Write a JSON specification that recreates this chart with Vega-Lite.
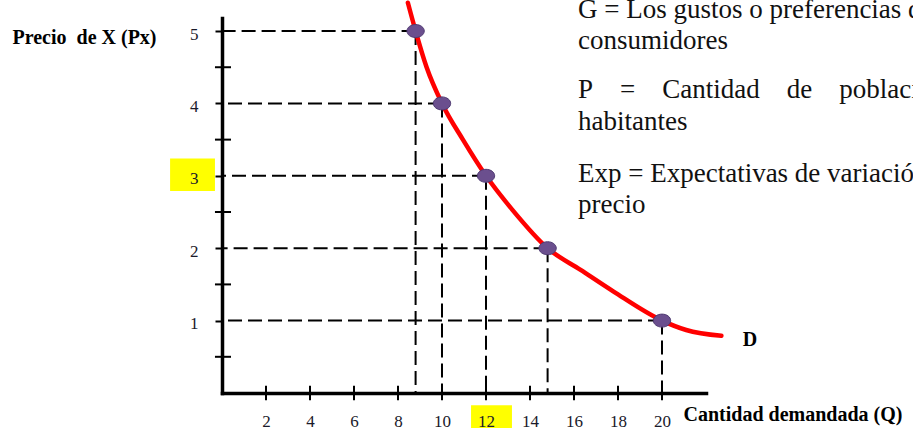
{
  "$schema": "https://vega.github.io/schema/vega-lite/v6.json",
  "width": 484,
  "height": 375,
  "autosize": {"type": "none"},
  "padding": {"left": 222, "top": 18, "right": 207, "bottom": 35},
  "background": "white",
  "config": {
    "view": {"stroke": null},
    "font": "Liberation Serif",
    "axis": {
      "grid": false, "domainColor": "black", "domainWidth": 3.5, "domainCap": "square",
      "labelFont": "Liberation Serif", "labelFontSize": 17, "labelColor": "#1a1a2a",
      "labelOverlap": false, "labelFlush": false, "zindex": 1,
      "titleFont": "Liberation Serif", "titleFontSize": 20, "titleFontWeight": "bold", "titleColor": "black"
    },
    "axisX": {
      "ticks": false, "labelPadding": 20,
      "titleAlign": "left", "titleBaseline": "alphabetic", "titleX": 461, "titleY": 27
    },
    "axisY": {
      "ticks": true, "tickSize": 7, "tickWidth": 2, "tickColor": "black",
      "labelPadding": 17, "labelOffset": 3,
      "titleAngle": 0, "titleAlign": "left", "titleBaseline": "alphabetic", "titleX": -210, "titleY": 25
    }
  },
  "datasets": {
    "pts": [
      {"q": 8.8, "p": 5},
      {"q": 10, "p": 4},
      {"q": 12, "p": 3},
      {"q": 14.8, "p": 2},
      {"q": 20, "p": 1}
    ],
    "curve": [
      {"q": 8.45, "p": 5.39},
      {"q": 8.8, "p": 5},
      {"q": 9.3, "p": 4.5},
      {"q": 10, "p": 4},
      {"q": 10.95, "p": 3.5},
      {"q": 12, "p": 3},
      {"q": 13.2, "p": 2.53},
      {"q": 14.8, "p": 2},
      {"q": 16.3, "p": 1.7},
      {"q": 17.8, "p": 1.4},
      {"q": 20, "p": 1},
      {"q": 21.1, "p": 0.87},
      {"q": 22.7, "p": 0.79}
    ],
    "minorY": [{"p": 0.5}, {"p": 1.5}, {"p": 2.5}, {"p": 3.5}, {"p": 4.5}],
    "ticksX": [{"q": 2}, {"q": 4}, {"q": 6}, {"q": 8}, {"q": 10}, {"q": 12}, {"q": 14}, {"q": 16}, {"q": 18}, {"q": 20}],
    "one": [{"k": 1}]
  },
  "layer": [
    {
      "data": {"name": "pts"},
      "mark": {"type": "rule", "color": "black", "strokeWidth": 2, "strokeDash": [14, 6]},
      "encoding": {
        "x": {
          "field": "q", "type": "quantitative",
          "scale": {"domain": [0, 22], "nice": false, "zero": false},
          "axis": {
            "title": "Cantidad demandada (Q)", "values": [2, 4, 6, 8, 10, 12, 14, 16, 18, 20], "format": "d",
            "labelFont": "Liberation Serif", "labelFontSize": 17, "labelColor": "#1a1a2a", "labelPadding": 20, "zindex": 1
          }
        },
        "y": {
          "field": "p", "type": "quantitative",
          "scale": {"domain": [0, 5.18], "nice": false, "zero": false},
          "axis": {
            "title": "Precio\u00a0 de X (Px)", "values": [1, 2, 3, 4, 5], "format": "d",
            "labelFont": "Liberation Serif", "labelFontSize": 17, "labelColor": "#1a1a2a", "labelPadding": 17, "zindex": 1
          }
        },
        "y2": {"datum": 0, "type": "quantitative"}
      }
    },
    {
      "data": {"name": "one"},
      "mark": {"type": "rect", "color": "#ffff00"},
      "encoding": {
        "x": {"datum": -2.36, "type": "quantitative"},
        "x2": {"datum": -0.32, "type": "quantitative"},
        "y": {"datum": 3.24, "type": "quantitative"},
        "y2": {"datum": 2.79, "type": "quantitative"}
      }
    },
    {
      "data": {"name": "one"},
      "mark": {"type": "rect", "color": "#ffff00"},
      "encoding": {
        "x": {"datum": 11.32, "type": "quantitative"},
        "x2": {"datum": 13.18, "type": "quantitative"},
        "y": {"datum": -0.17, "type": "quantitative"},
        "y2": {"datum": -0.6, "type": "quantitative"}
      }
    },
    {
      "data": {"name": "pts"},
      "mark": {"type": "rule", "color": "black", "strokeWidth": 2, "strokeDash": [14, 6]},
      "encoding": {
        "x": {"field": "q", "type": "quantitative"},
        "x2": {"datum": 0, "type": "quantitative"},
        "y": {"field": "p", "type": "quantitative"}
      }
    },
    {
      "data": {"name": "minorY"},
      "mark": {"type": "rule", "color": "black", "strokeWidth": 2},
      "encoding": {
        "x": {"datum": -0.32, "type": "quantitative"},
        "x2": {"datum": 0.41, "type": "quantitative"},
        "y": {"field": "p", "type": "quantitative"}
      }
    },
    {
      "data": {"name": "ticksX"},
      "mark": {"type": "rule", "color": "black", "strokeWidth": 2},
      "encoding": {
        "x": {"field": "q", "type": "quantitative"},
        "y": {"datum": -0.1, "type": "quantitative"},
        "y2": {"datum": 0.1, "type": "quantitative"}
      }
    },
    {
      "data": {"name": "curve"},
      "mark": {"type": "line", "color": "#ff0000", "strokeWidth": 4.5, "strokeCap": "round", "interpolate": "monotone"},
      "encoding": {
        "x": {"field": "q", "type": "quantitative"},
        "y": {"field": "p", "type": "quantitative"}
      }
    },
    {
      "data": {"name": "pts"},
      "mark": {
        "type": "point", "filled": true, "opacity": 1,
        "shape": "M -1 0 A 1 0.75 0 1 0 1 0 A 1 0.75 0 1 0 -1 0 Z",
        "size": 300, "fill": "#6b4f8e", "stroke": "#4f3a72", "strokeWidth": 1
      },
      "encoding": {
        "x": {"field": "q", "type": "quantitative"},
        "y": {"field": "p", "type": "quantitative"}
      }
    },
    {
      "data": {"name": "one"},
      "mark": {"type": "text", "font": "Liberation Serif", "fontSize": 20, "fontWeight": "bold", "color": "black", "align": "center", "baseline": "middle", "text": "D"},
      "encoding": {
        "x": {"datum": 24, "type": "quantitative"},
        "y": {"datum": 0.736, "type": "quantitative"}
      }
    },
    {
      "data": {"name": "one"},
      "mark": {"type": "text", "font": "Liberation Serif", "fontSize": 27, "color": "#111111", "align": "left", "baseline": "alphabetic", "text": "G = Los gustos o preferencias de los"},
      "encoding": {
        "x": {"datum": 16.18, "type": "quantitative"},
        "y": {"datum": 5.18, "type": "quantitative"}
      }
    },
    {
      "data": {"name": "one"},
      "mark": {"type": "text", "font": "Liberation Serif", "fontSize": 27, "color": "#111111", "align": "left", "baseline": "alphabetic", "text": "consumidores"},
      "encoding": {
        "x": {"datum": 16.18, "type": "quantitative"},
        "y": {"datum": 4.755, "type": "quantitative"}
      }
    },
    {
      "data": {"name": "one"},
      "mark": {"type": "text", "font": "Liberation Serif", "fontSize": 27, "color": "#111111", "align": "left", "baseline": "alphabetic", "text": "P\u00a0\u00a0\u00a0\u00a0=\u00a0\u00a0\u00a0\u00a0Cantidad\u00a0\u00a0\u00a0\u00a0de\u00a0\u00a0\u00a0\u00a0población en"},
      "encoding": {
        "x": {"datum": 16.18, "type": "quantitative"},
        "y": {"datum": 4.079, "type": "quantitative"}
      }
    },
    {
      "data": {"name": "one"},
      "mark": {"type": "text", "font": "Liberation Serif", "fontSize": 27, "color": "#111111", "align": "left", "baseline": "alphabetic", "text": "habitantes"},
      "encoding": {
        "x": {"datum": 16.18, "type": "quantitative"},
        "y": {"datum": 3.637, "type": "quantitative"}
      }
    },
    {
      "data": {"name": "one"},
      "mark": {"type": "text", "font": "Liberation Serif", "fontSize": 27, "color": "#111111", "align": "left", "baseline": "alphabetic", "text": "Exp = Expectativas de variación del"},
      "encoding": {
        "x": {"datum": 16.18, "type": "quantitative"},
        "y": {"datum": 2.919, "type": "quantitative"}
      }
    },
    {
      "data": {"name": "one"},
      "mark": {"type": "text", "font": "Liberation Serif", "fontSize": 27, "color": "#111111", "align": "left", "baseline": "alphabetic", "text": "precio"},
      "encoding": {
        "x": {"datum": 16.18, "type": "quantitative"},
        "y": {"datum": 2.491, "type": "quantitative"}
      }
    }
  ]
}
